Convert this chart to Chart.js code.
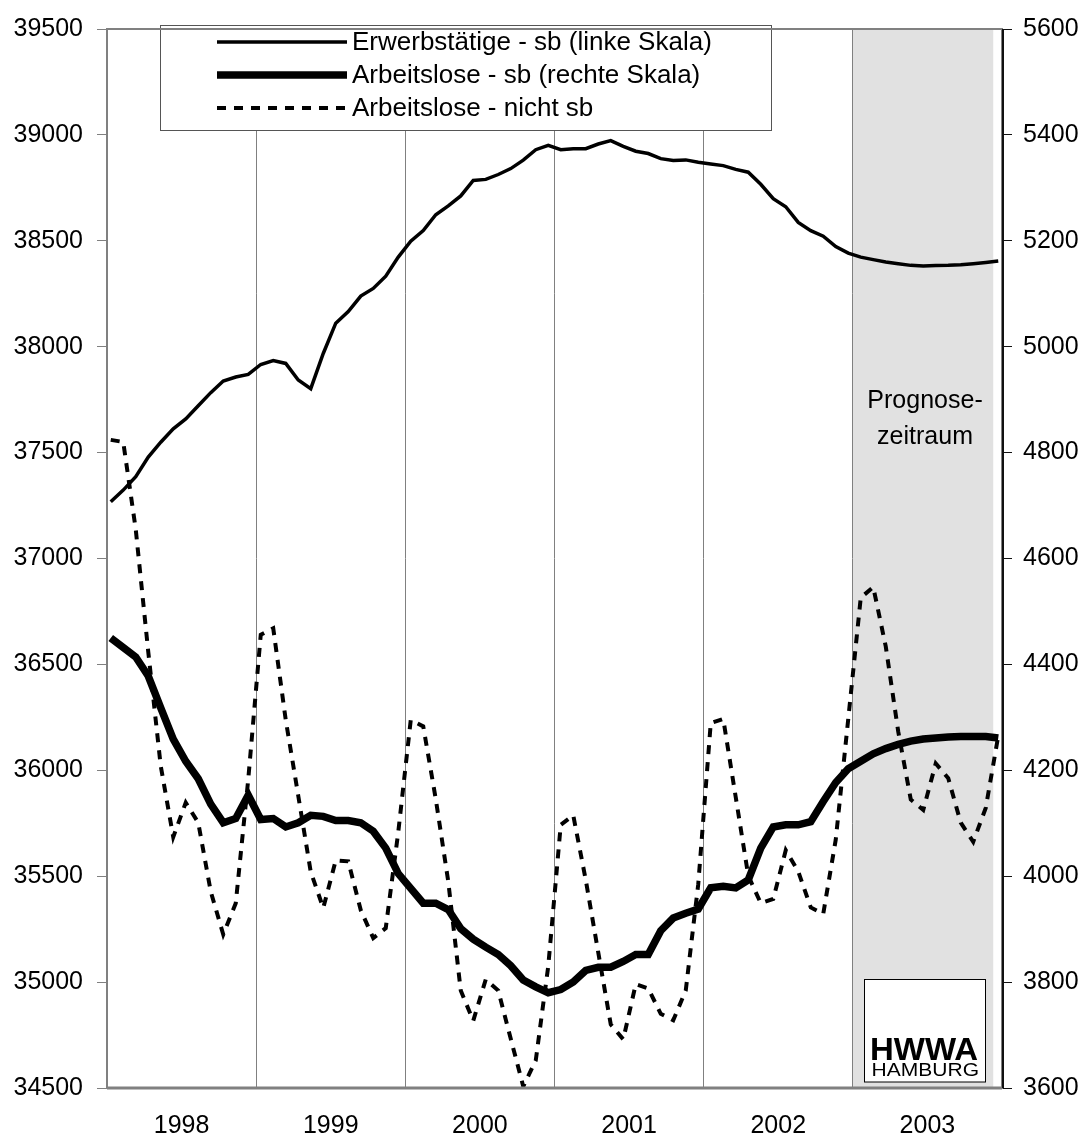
<!DOCTYPE html>
<html><head><meta charset="utf-8">
<script src="https://cdn.jsdelivr.net/npm/chart.js@4.4.1/dist/chart.umd.min.js"></script>
<style>html,body{margin:0;padding:0;background:#fff;overflow:hidden}canvas{display:block}</style>
</head><body>
<canvas id="c" width="1087" height="1139"></canvas>
<script>
// ---- data ----
const years = ['1998','1999','2000','2001','2002','2003'];
const seriesLabels = ['Erwerbstätige - sb (linke Skala)','Arbeitslose - sb (rechte Skala)','Arbeitslose - nicht sb'];
const leftAxis = {min: 34500, max: 39500, step: 500};
const rightAxis = {min: 3600, max: 5600, step: 200};
const forecastLabel = ['Prognose-', 'zeitraum'];
const logoLines = ['HWWA', 'HAMBURG'];

const erwerbstaetige = [
  37268,37323,37386,37479,37549,37612,37659,37721,37783,37838,37857,37869,
  37916,37935,37921,37843,37802,37968,38111,38166,38239,38275,38333,38423,
  38498,38548,38623,38665,38712,38785,38790,38813,38841,38881,38930,38951,
  38930,38935,38935,38957,38973,38946,38923,38912,38888,38879,38882,38871,
  38863,38855,38837,38824,38767,38699,38661,38587,38548,38522,38473,38442,
  38423,38411,38400,38392,38384,38381,38383,38384,38387,38392,38398,38405
];
const arbeitsloseSb = [
  4450,4432,4414,4378,4318,4259,4217,4184,4136,4101,4109,4153,
  4107,4109,4093,4101,4115,4113,4105,4105,4101,4085,4053,4005,
  3977,3949,3949,3937,3901,3881,3866,3852,3831,3804,3791,3780,
  3786,3800,3822,3828,3828,3839,3852,3852,3897,3921,3930,3938,
  3978,3981,3978,3993,4053,4093,4097,4097,4103,4141,4177,4203,
  4217,4231,4241,4249,4255,4259,4261,4263,4264,4264,4264,4261
];
const arbeitsloseNichtSb = [
  4824,4820,4655,4424,4208,4074,4139,4101,3971,3890,3949,4183,
  4456,4468,4295,4152,4008,3940,4030,4028,3936,3883,3902,4083,
  4295,4283,4146,3990,3784,3727,3805,3784,3693,3603,3652,3830,
  4097,4115,3993,3856,3720,3692,3796,3788,3740,3728,3784,3985,
  4289,4297,4149,4001,3949,3957,4049,4009,3941,3929,4069,4297,
  4526,4546,4434,4273,4145,4125,4213,4185,4101,4065,4129,4265
];
const forecastStartYear = 5;     // index of 2003 in years
const forecastEndMonth = 70.6;   // shading ends just before last month

// ---- build ----
const toXY = arr => arr.map((v, i) => ({x: i, y: v}));
const FONT = "'Liberation Sans', Arial, sans-serif";
Chart.defaults.font.family = FONT;
Chart.defaults.color = '#000';

const datasets = [
  {label: seriesLabels[0], data: toXY(erwerbstaetige), yAxisID: 'y', xAxisID: 'x',
   borderColor: '#000', borderWidth: 3.5, pointRadius: 0, tension: 0, fill: false},
  {label: seriesLabels[1], data: toXY(arbeitsloseSb), yAxisID: 'y2', xAxisID: 'x',
   borderColor: '#000', borderWidth: 7.5, pointRadius: 0, tension: 0, fill: false},
  {label: seriesLabels[2], data: toXY(arbeitsloseNichtSb), yAxisID: 'y2', xAxisID: 'x',
   borderColor: '#000', borderWidth: 4, borderDash: [9, 8], pointRadius: 0, tension: 0, fill: false}
];

const deco = {
  id: 'deco',
  beforeDraw(chart) {
    const {ctx, chartArea: a, scales} = chart;
    ctx.save();
    ctx.fillStyle = '#fff';
    ctx.fillRect(0, 0, chart.width, chart.height);
    const x2 = scales.x2;
    const half = (x2.getPixelForValue(1) - x2.getPixelForValue(0)) / 2;
    const gx0 = x2.getPixelForValue(forecastStartYear) - half;
    const gx1 = scales.x.getPixelForValue(forecastEndMonth);
    ctx.fillStyle = '#e1e1e1';
    ctx.fillRect(gx0, a.top, gx1 - gx0, a.bottom - a.top);
    ctx.restore();
  },
  afterDatasetsDraw(chart) {
    const {ctx, chartArea: a, scales} = chart;
    ctx.save();
    // forecast label
    const x2 = scales.x2;
    const half = (x2.getPixelForValue(1) - x2.getPixelForValue(0)) / 2;
    const gx0 = x2.getPixelForValue(forecastStartYear) - half;
    const gx1 = scales.x.getPixelForValue(forecastEndMonth);
    const cx = (gx0 + gx1) / 2 + 2;
    ctx.fillStyle = '#000';
    ctx.font = '25px ' + FONT;
    ctx.textAlign = 'center';
    ctx.textBaseline = 'middle';
    ctx.fillText(forecastLabel[0], cx, a.top + 372);
    ctx.fillText(forecastLabel[1], cx, a.top + 408);

    // logo box
    const bx0 = 864.5, bx1 = 985.5, by0 = 979.5, by1 = 1082;
    ctx.fillStyle = '#fff';
    ctx.fillRect(bx0, by0, bx1 - bx0, by1 - by0);
    ctx.strokeStyle = '#000';
    ctx.lineWidth = 1;
    ctx.strokeRect(bx0, by0, bx1 - bx0, by1 - by0);
    ctx.fillStyle = '#000';
    ctx.textAlign = 'left';
    ctx.textBaseline = 'alphabetic';
    const fitText = (txt, font, x, y, w) => {
      ctx.font = font;
      const m = ctx.measureText(txt).width;
      ctx.save();
      ctx.translate(x, y);
      ctx.scale(w / m, 1);
      ctx.fillText(txt, 0, 0);
      ctx.restore();
    };
    fitText(logoLines[0], 'bold 31px ' + FONT, 870, 1060, 108);
    fitText(logoLines[1], '18px ' + FONT, 871.5, 1076, 107.5);

    // legend
    const lx0 = a.left + 53.5, ly0 = 25.5, lx1 = 771.5, ly1 = 130.5;
    ctx.fillStyle = '#fff';
    ctx.fillRect(lx0, ly0, lx1 - lx0, ly1 - ly0);
    ctx.strokeStyle = '#555';
    ctx.lineWidth = 1;
    ctx.strokeRect(lx0, ly0, lx1 - lx0, ly1 - ly0);
    const rows = [42, 75, 108];
    chart.data.datasets.forEach((ds, i) => {
      ctx.save();
      ctx.strokeStyle = ds.borderColor;
      ctx.lineWidth = ds.borderWidth;
      ctx.setLineDash(ds.borderDash || []);
      ctx.beginPath();
      ctx.moveTo(217, rows[i]);
      ctx.lineTo(347, rows[i]);
      ctx.stroke();
      ctx.restore();
      ctx.fillStyle = '#000';
      ctx.font = '26px ' + FONT;
      ctx.textAlign = 'left';
      ctx.textBaseline = 'middle';
      ctx.fillText(ds.label, 352, rows[i] + 1);
    });
    ctx.restore();
  },
  afterDraw(chart) {
    const {ctx, chartArea: a} = chart;
    ctx.save();
    ctx.strokeStyle = '#808080';
    ctx.lineWidth = 2;
    ctx.strokeRect(a.left, a.top, a.right - a.left, a.bottom - a.top);
    ctx.lineWidth = 3;
    ctx.beginPath(); ctx.moveTo(a.left, a.bottom); ctx.lineTo(a.right, a.bottom); ctx.stroke();
    ctx.strokeStyle = '#111';
    ctx.lineWidth = 2;
    ctx.beginPath(); ctx.moveTo(a.right + 1, a.top); ctx.lineTo(a.right + 1, a.bottom); ctx.stroke();
    ctx.restore();
  }
};

new Chart(document.getElementById('c'), {
  type: 'line',
  data: {datasets},
  plugins: [deco],
  options: {
    responsive: false,
    animation: false,
    devicePixelRatio: 1,
    layout: {padding: {top: 20, left: 0, right: 0, bottom: 0}},
    plugins: {legend: {display: false}, tooltip: {enabled: false}},
    scales: {
      x: {type: 'linear', min: -0.3, max: 71.3, display: false},
      x2: {
        type: 'category', labels: years, position: 'bottom', offset: true,
        grid: {offset: true, color: '#808080', lineWidth: 1, drawTicks: false},
        border: {display: false},
        ticks: {font: {size: 25}, color: '#000', padding: 23, maxRotation: 0, autoSkip: false},
        afterFit(s) { s.height = 51; }
      },
      y: {
        position: 'left', min: leftAxis.min, max: leftAxis.max,
        ticks: {stepSize: leftAxis.step, font: {size: 25}, color: '#000', padding: 14,
                callback: v => String(v)},
        grid: {drawOnChartArea: false, tickLength: 10, color: '#808080'},
        border: {display: false},
        afterFit(s) { s.width = 107; }
      },
      y2: {
        position: 'right', min: rightAxis.min, max: rightAxis.max,
        ticks: {stepSize: rightAxis.step, font: {size: 25}, color: '#000', padding: 11,
                callback: v => String(v)},
        grid: {drawOnChartArea: false, tickLength: 10, color: '#111'},
        border: {display: false},
        afterFit(s) { s.width = 85; }
      }
    }
  }
});
</script>
</body></html>
